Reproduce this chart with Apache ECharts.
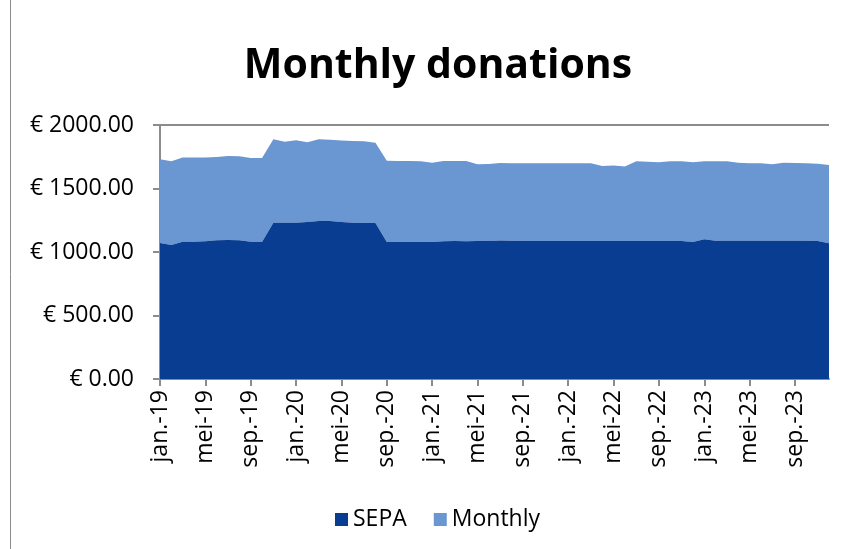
<!DOCTYPE html>
<html>
<head>
<meta charset="utf-8">
<script src="https://cdn.jsdelivr.net/npm/echarts@6/dist/echarts.min.js"></script>
<style>
html,body{margin:0;padding:0;background:#fff;}
#chart{width:848px;height:549px;}
</style>
</head>
<body>
<div id="chart"></div>
<script>
const monthNames = ['jan.','feb.','mrt.','apr.','mei','jun.','jul.','aug.','sep.','okt.','nov.','dec.'];
const years = ['19','20','21','22','23'];
const categories = [];
years.forEach(y => monthNames.forEach(m => categories.push(m + '-' + y)));

const sepa = [
  1071,1055,1081,1081,1084,1092,1094,1092,1081,1079,1231,1231,
  1231,1236,1244,1244,1236,1231,1228,1228,1079,1079,1079,1079,
  1079,1084,1086,1084,1086,1086,1090,1088,1087,1087,1087,1087,
  1087,1087,1087,1087,1087,1087,1087,1087,1087,1087,1087,1079,
  1100,1089,1089,1089,1089,1089,1089,1089,1089,1089,1087,1068
];
const monthly = [
  659,659,664,664,661,656,662,661,659,661,656,638,
  648,628,643,640,641,643,644,633,640,638,638,635,
  624,633,631,633,604,607,611,610,611,611,611,611,
  611,611,611,590,595,587,627,624,619,627,627,627,
  614,625,625,614,609,609,601,614,612,609,608,617
];
const yTicks = [0, 500, 1000, 1500, 2000];

const FONT = "'Open Sans', 'Liberation Sans', sans-serif";
const chart = echarts.init(document.getElementById('chart'), null, {renderer: 'canvas'});
chart.setOption({
  animation: false,
  backgroundColor: '#ffffff',
  title: {
    text: 'Monthly donations',
    left: 433, top: 41, textAlign: 'center',
    textStyle: {fontFamily: FONT, fontSize: 41, fontWeight: 'bold', color: '#000'}
  },
  legend: {
    left: 330, top: 503,
    itemWidth: 13, itemHeight: 13, itemGap: 27,
    icon: 'rect',
    textStyle: {fontFamily: FONT, fontSize: 23, color: '#000'},
    data: ['SEPA', 'Monthly']
  },
  grid: {left: 160, right: 19, top: 125, bottom: 170, containLabel: false},
  xAxis: {
    type: 'category',
    data: categories,
    boundaryGap: false,
    axisLine: {show: true, lineStyle: {color: '#8c8c8c', width: 2}},
    axisTick: {show: true, interval: 3, length: 7, lineStyle: {color: '#8c8c8c', width: 2}},
    axisLabel: {interval: 3, rotate: 90, margin: 11, fontFamily: FONT, fontSize: 23, color: '#000'},
    splitLine: {show: false}
  },
  yAxis: {
    type: 'value',
    min: yTicks[0], max: yTicks[yTicks.length - 1], interval: 500,
    axisLine: {show: true, lineStyle: {color: '#8c8c8c', width: 2}},
    axisTick: {show: true, length: 7, lineStyle: {color: '#8c8c8c', width: 2}},
    axisLabel: {
      margin: 26, fontFamily: FONT, fontSize: 23, color: '#000',
      formatter: v => '€ ' + v.toFixed(2)
    },
    splitLine: {show: true, lineStyle: {color: '#8c8c8c', width: 2}}
  },
  series: [
    {
      name: 'SEPA', type: 'line', stack: 'total', data: sepa,
      symbol: 'none', lineStyle: {width: 0}, itemStyle: {color: '#083D91'},
      areaStyle: {color: '#083D91', opacity: 1}, z: 3
    },
    {
      name: 'Monthly', type: 'line', stack: 'total', data: monthly,
      symbol: 'none', lineStyle: {width: 0}, itemStyle: {color: '#6A96D1'},
      areaStyle: {color: '#6A96D1', opacity: 1}, z: 2
    }
  ],
  graphic: [
    {type: 'line', shape: {x1: 10.5, y1: 0, x2: 10.5, y2: 549}, style: {stroke: '#8c8c8c', lineWidth: 1}}
  ]
});
</script>
</body>
</html>
